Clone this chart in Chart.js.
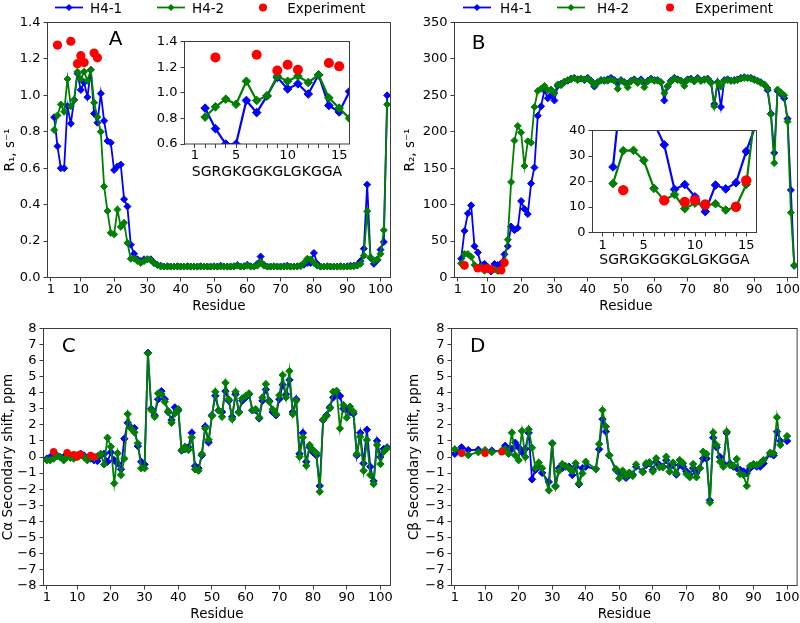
<!DOCTYPE html>
<html>
<head>
<meta charset="utf-8">
<script src="https://cdn.jsdelivr.net/npm/chart.js@4/dist/chart.umd.min.js"></script>
<style>
html,body{margin:0;padding:0;background:#fff;}
#wrap{position:relative;width:800px;height:623px;overflow:hidden;background:#fff;}
#wrap canvas{position:absolute;left:0;top:0;}
.leg{position:absolute;font-family:"DejaVu Sans",sans-serif;font-size:13.5px;line-height:16px;color:#000;white-space:nowrap;}
.legicon{position:absolute;}
</style>
</head>
<body>
<div id="wrap">
<canvas id="cA" width="800" height="623"></canvas>
<canvas id="cB" width="800" height="623"></canvas>
<canvas id="cC" width="800" height="623"></canvas>
<canvas id="cD" width="800" height="623"></canvas>
<canvas id="cAi" width="800" height="623"></canvas>
<canvas id="cBi" width="800" height="623"></canvas>
</div>
<script>
// ---------------- data ----------------
const residues = Array.from({length: 102}, (_, i) => i + 1);
const sequenceLabel = 'SGRGKGGKGLGKGGA';

const r1H41 = [null,0.88,0.72,0.60,0.60,0.94,0.845,0.975,1.12,1.03,
  1.07,0.99,1.14,0.90,0.85,1.01,0.86,0.75,0.74,0.59,
  0.61,0.62,0.43,0.39,0.18,0.13,0.10,0.09,0.10,0.10,
  0.10,0.08,0.07,0.065,0.06,0.062,0.06,0.06,0.062,0.06,
  0.06,0.062,0.06,0.06,0.06,0.062,0.06,0.06,0.06,0.062,
  0.06,0.065,0.06,0.06,0.06,0.062,0.068,0.06,0.062,0.07,
  0.062,0.06,0.075,0.115,0.07,0.06,0.06,0.062,0.06,0.06,
  0.062,0.065,0.06,0.06,0.062,0.065,0.07,0.08,0.08,0.135,
  0.075,0.06,0.06,0.062,0.06,0.06,0.06,0.062,0.06,0.062,
  0.065,0.065,0.07,0.09,0.158,0.51,0.108,0.075,0.094,0.153,
  0.195,1.00];
const r1H42 = [null,0.81,0.89,0.95,0.91,1.09,0.94,0.975,1.13,1.09,
  1.13,1.08,1.14,0.96,0.88,0.80,0.50,0.365,0.245,0.237,
  0.373,0.278,0.30,0.19,0.103,0.105,0.09,0.08,0.09,0.10,
  0.095,0.08,0.068,0.06,0.06,0.06,0.06,0.06,0.06,0.06,
  0.06,0.06,0.06,0.06,0.06,0.06,0.06,0.06,0.06,0.06,
  0.06,0.06,0.06,0.06,0.06,0.06,0.065,0.06,0.06,0.065,
  0.06,0.06,0.065,0.085,0.065,0.06,0.06,0.06,0.06,0.06,
  0.06,0.06,0.06,0.06,0.06,0.062,0.08,0.103,0.10,0.08,
  0.065,0.06,0.06,0.06,0.06,0.06,0.06,0.06,0.06,0.06,
  0.06,0.062,0.065,0.075,0.12,0.364,0.11,0.09,0.10,0.13,
  0.26,0.95];

const r2H41 = [null,25.7,64,88,99,43,34.4,16.9,18.8,14,
  8.2,18.6,17.1,19.5,31.8,43,70,65,68,105,
  94,87,129,151,222,235,257,246,250,243,
  263,266,268,270,273,274,272,273,271,274,
  270,262,268,271,270,272,274,271,268,271,
  268,266,270,272,268,272,266,270,273,271,
  271,268,243,262,270,274,272,270,268,272,
  273,270,274,270,272,273,268,238,268,234,
  271,272,270,271,272,274,275,274,274,272,
  270,268,265,257,225,171,256,252,246,218,
  120,16];
const r2H42 = [null,19.2,32.1,32.2,28.3,17.3,12.7,14.9,9.35,11.5,
  10.5,11.3,8.8,10.1,18.8,52,131,188,208,199,
  153,187,185,234,256,259,263,257,258,253,
  265,264,269,271,272,274,271,273,272,273,
  269,264,268,270,271,270,272,270,259,270,
  268,261,269,271,267,270,261,269,272,270,
  270,268,253,263,269,273,271,270,263,271,
  272,269,273,270,271,272,267,235,268,262,
  270,271,270,270,271,273,274,274,273,271,
  270,267,265,260,224,157,258,254,250,214,
  89,17];

const caH41 = [-0.1,0.0,0.0,0.1,0.0,0.0,0.1,0.1,0.0,0.1,
  0.2,0.1,-0.1,-0.1,-0.2,-0.25,0.1,0.2,-0.3,0.3,
  -0.2,-0.4,-0.77,1.14,2.13,1.84,1.8,0.68,-0.3,-0.46,
  6.49,3.0,2.6,3.59,4.1,3.6,2.8,2.3,3.09,2.9,
  0.4,0.5,0.6,1.51,-0.56,-0.7,0.1,1.9,0.91,2.6,
  3.81,2.9,2.8,4.1,3.5,2.5,3.9,2.8,3.5,3.7,
  3.9,2.9,2.9,2.4,3.5,4.2,3.5,2.8,2.6,3.6,
  4.5,3.9,4.8,2.8,3.6,0.2,1.5,-0.3,0.6,0.3,
  0.1,-1.8,2.3,2.6,3.1,3.7,4.0,3.8,3.0,3.0,
  2.8,2.7,0.1,1.5,-0.4,1.7,-0.6,-1.5,1.0,0.0,
  0.5,0.6];
const caH42 = [-0.2,-0.2,-0.1,0.05,0.0,-0.2,0.0,-0.05,-0.1,0.0,
  0.1,0.0,-0.2,0.0,-0.05,0.05,0.2,-0.46,1.2,0.64,
  -1.64,0.23,-1.12,-0.1,2.67,1.78,1.53,0.85,-0.7,-0.7,
  6.45,2.92,2.5,3.96,3.92,3.44,2.86,2.13,2.71,2.98,
  0.43,0.64,0.43,1.22,-0.77,-0.85,0.19,1.78,1.08,2.55,
  4.06,2.9,2.5,4.62,3.59,2.36,4.06,2.76,3.65,3.8,
  3.96,2.92,2.98,2.47,3.7,4.54,3.44,2.96,2.67,3.85,
  5.1,3.71,5.35,2.67,3.5,0.02,1.22,-0.54,0.75,0.44,
  0.23,-2.16,2.34,2.55,3.03,4.06,4.12,1.78,3.23,2.45,
  3.13,2.82,0.19,1.26,-0.85,1.06,-1.12,-1.68,0.75,-0.44,
  0.33,0.54];

const cbH41 = [0.2,null,0.6,null,0.43,null,null,0.45,null,0.3,
  null,0.4,null,null,0.35,0.7,0.5,0.5,0.89,0.6,
  0.3,0.5,1.5,-1.39,-0.8,-0.6,-0.99,null,-1.55,0.85,
  -1.8,-0.7,-0.7,-0.6,-0.6,-1.12,-0.6,-1.7,-0.7,-0.6,
  null,null,-0.75,0.48,2.36,1.58,0.1,null,-0.8,-1.0,
  -1.0,-1.3,-1.1,-1.1,-0.6,null,-0.9,-0.5,-0.4,-0.8,
  -0.3,-0.5,-0.6,-0.2,-0.6,-0.5,-1.1,-0.5,-0.6,-0.9,
  -1.1,-0.7,-1.0,-0.7,-0.1,-0.1,-2.7,1.2,0.6,0.0,
  -0.4,1.5,-0.4,-0.6,-0.7,-0.8,-0.9,-1.0,-0.7,-0.5,
  -0.6,-0.6,-0.4,null,0.2,0.1,1.58,1.0,null,1.0,
  null,null];
const cbH42 = [0.48,null,0.25,null,0.12,null,null,0.3,null,0.43,
  null,0.3,null,null,0.4,0.48,0.2,1.51,0.1,-0.2,
  1.62,0.0,1.72,0.58,-0.68,-0.35,-0.7,null,-2.07,0.85,
  -1.84,-0.87,-0.44,-0.56,-0.7,-0.9,-0.39,-1.64,-1.02,-0.29,
  null,null,-0.75,0.81,2.92,1.89,0.12,null,-0.75,-1.33,
  -0.85,-1.18,-0.97,-1.18,-0.46,null,-0.95,-0.39,-0.33,-0.91,
  -0.08,-0.64,-0.64,0.02,-0.91,-0.35,-1.02,-0.19,-0.39,-1.06,
  -1.26,-0.44,-1.26,-0.7,0.33,0.19,-2.84,1.53,0.75,-0.29,
  -0.6,1.58,-0.5,-0.56,-0.12,-1.06,-1.12,-1.8,-0.56,-0.44,
  -0.5,-0.39,-0.19,null,0.27,0.23,2.47,0.75,null,1.3,
  null,null];

const expRes = [3,7,9,10,11,14,15];
const expR1 = [1.276,1.297,1.174,1.218,1.18,1.232,1.206];
const expR2 = [16.6,12.6,12.0,12.7,11.0,10.1,20.4];
const expCa = [0.33,0.27,0.15,0.02,0.18,0.10,0.0];
const expCbRes = [3,10,15];
const expCb = [0.23,0.23,0.33];

const xTicksMain = [1,10,20,30,40,50,60,70,80,90,100];
const xTicksInset = [1,2,3,4,5,6,7,8,9,10,11,12,13,14,15];
const xLabelsInset = [1,5,10,15];
const yTicksR1 = [0,0.2,0.4,0.6,0.8,1.0,1.2,1.4];
const yTicksR1Inset = [0.6,0.8,1.0,1.2,1.4];
const yTicksR2 = [0,50,100,150,200,250,300,350];
const yTicksR2Inset = [0,10,20,30,40];
const yTicksShift = [-8,-7,-6,-5,-4,-3,-2,-1,0,1,2,3,4,5,6,7,8];

// ---------------- styling ----------------
const BLUE = '#0000ff', GREEN = '#008000', RED = '#ff0000', FRAME = '#3c3c3c';
Chart.defaults.font.family = '"DejaVu Sans", sans-serif';
Chart.defaults.color = '#000';

const decoPlugin = {
  id: 'deco',
  beforeDraw(chart, args, o) {
    if (o.white) {
      const a = chart.chartArea, c = chart.ctx;
      c.save(); c.fillStyle = '#fff';
      c.fillRect(a.left, a.top, a.right - a.left, a.bottom - a.top);
      c.restore();
    }
  },
  afterDraw(chart, args, o) {
    const a = chart.chartArea, c = chart.ctx;
    c.save();
    c.strokeStyle = FRAME; c.lineWidth = 1;
    c.strokeRect(a.left, a.top, a.right - a.left, a.bottom - a.top);
    if (o.letter) {
      c.fillStyle = '#000';
      c.font = '20px "DejaVu Sans"';
      c.textAlign = 'center'; c.textBaseline = 'middle';
      c.fillText(o.letter, o.lx, o.ly);
    }
    c.restore();
  }
};

const fmtInt = v => String(v);
const fmt1 = v => Number(v).toFixed(1);
const fmtMinus = v => (v < 0 ? '\u2212' + Math.abs(v) : String(v));

function xAxis(o) {
  return {
    type: 'linear', min: o.min, max: o.max,
    afterBuildTicks: s => { s.ticks = o.ticks.map(v => ({value: v})); },
    afterFit: s => { s.height = o.h; },
    ticks: {autoSkip: false, maxRotation: 0, minRotation: 0, padding: o.pad, font: {size: 13}, color: '#000', callback: o.fmt},
    grid: {drawOnChartArea: false, drawTicks: true, tickLength: 4, color: FRAME, lineWidth: 1},
    border: {display: false},
    title: {display: true, text: o.title, font: {size: o.titleSize}, padding: 0, color: '#000'}
  };
}
function yAxis(o) {
  return {
    type: 'linear', min: o.min, max: o.max,
    afterBuildTicks: s => { s.ticks = o.ticks.map(v => ({value: v})); },
    afterFit: s => { s.width = o.w; },
    ticks: {autoSkip: false, padding: 3, font: {size: 13}, color: '#000', callback: o.fmt},
    grid: {drawOnChartArea: false, drawTicks: true, tickLength: 4, color: FRAME, lineWidth: 1},
    border: {display: false},
    title: {display: !!o.title, text: o.title || '', font: {size: 13.5}, padding: 0, color: '#000'}
  };
}
function lineDs(label, values, color, order, r, bw) {
  return {
    label, data: residues.map((x, i) => ({x, y: values[i]})),
    borderColor: color, backgroundColor: color, borderWidth: bw,
    pointStyle: 'rectRot', pointRadius: r, pointBorderWidth: 1,
    pointBackgroundColor: color, pointBorderColor: color,
    spanGaps: true, tension: 0, order, clip: 0
  };
}
function expDs(xs, ys, r) {
  return {
    label: 'Experiment', data: xs.map((x, i) => ({x, y: ys[i]})),
    showLine: false, pointStyle: 'circle', pointRadius: r, pointBorderWidth: 0,
    backgroundColor: RED, borderColor: RED, pointBackgroundColor: RED, order: 0, clip: 0
  };
}
function makeChart(id, c) {
  return new Chart(document.getElementById(id), {
    type: 'line',
    data: {datasets: c.datasets},
    options: {
      responsive: false, animation: false, devicePixelRatio: 1, events: [],
      layout: {autoPadding: false, padding: c.padding},
      plugins: {legend: {display: false}, tooltip: {enabled: false}, deco: c.deco},
      scales: {x: c.x, y: c.y}
    },
    plugins: [decoPlugin]
  });
}

// ---------------- Panel A ----------------
makeChart('cA', {
  padding: {left: 2.4, top: 22.5, right: 409.5, bottom: 308.9},
  deco: {letter: 'A', lx: 115.5, ly: 40},
  x: xAxis({min: 0, max: 103, ticks: xTicksMain, h: 36.6, pad: 0, fmt: fmtInt, title: 'Residue', titleSize: 13.5}),
  y: yAxis({min: 0, max: 1.4, ticks: yTicksR1, w: 45.1, fmt: fmt1, title: 'R\u2081, s\u207B\u00B9'}),
  datasets: [lineDs('H4-1', r1H41, BLUE, 2, 3.5, 1.8), lineDs('H4-2', r1H42, GREEN, 1, 3.5, 1.8), expDs(expRes, expR1, 4.6)]
});
// ---------------- Panel B ----------------
makeChart('cB', {
  padding: {left: 401.9, top: 22.5, right: 1.5, bottom: 308.9},
  deco: {letter: 'B', lx: 478.5, ly: 43.3},
  x: xAxis({min: 0, max: 103, ticks: xTicksMain, h: 36.6, pad: 0, fmt: fmtInt, title: 'Residue', titleSize: 13.5}),
  y: yAxis({min: 0, max: 350, ticks: yTicksR2, w: 52.6, fmt: fmtInt, title: 'R\u2082, s\u207B\u00B9'}),
  datasets: [lineDs('H4-1', r2H41, BLUE, 2, 3.5, 1.8), lineDs('H4-2', r2H42, GREEN, 1, 3.5, 1.8), expDs(expRes, expR2, 4.3)]
});
// ---------------- Panel C ----------------
makeChart('cC', {
  padding: {left: 0, top: 328.5, right: 409.5, bottom: 0.6},
  deco: {letter: 'C', lx: 68.8, ly: 347},
  x: xAxis({min: 0, max: 103, ticks: xTicksMain, h: 36.9, pad: 0.5, fmt: fmtInt, title: 'Residue', titleSize: 13.5}),
  y: yAxis({min: -8, max: 8, ticks: yTicksShift, w: 43.5, fmt: fmtMinus, title: 'C\u03B1 Secondary shift, ppm'}),
  datasets: [lineDs('H4-1', caH41, BLUE, 2, 3.7, 1.8), lineDs('H4-2', caH42, GREEN, 1, 3.7, 1.8), expDs(expRes, expCa, 3.7)]
});
// ---------------- Panel D ----------------
makeChart('cD', {
  padding: {left: 405.9, top: 328.5, right: 1.5, bottom: 0.6},
  deco: {letter: 'D', lx: 477.8, ly: 347},
  x: xAxis({min: 0, max: 103, ticks: xTicksMain, h: 36.9, pad: 0.5, fmt: fmtInt, title: 'Residue', titleSize: 13.5}),
  y: yAxis({min: -8, max: 8, ticks: yTicksShift, w: 45.6, fmt: fmtMinus, title: 'C\u03B2 Secondary shift, ppm'}),
  datasets: [lineDs('H4-1', cbH41, BLUE, 2, 3.7, 1.8), lineDs('H4-2', cbH42, GREEN, 1, 3.7, 1.8), expDs(expCbRes, expCb, 3.7)]
});
// ---------------- Insets ----------------
const insetFmt = v => (xLabelsInset.includes(v) ? String(v) : '');
makeChart('cAi', {
  padding: {left: 150, top: 41.5, right: 450.5, bottom: 442.6},
  deco: {white: true},
  x: xAxis({min: 0, max: 16, ticks: xTicksInset, h: 36.4, pad: 0, fmt: insetFmt, title: sequenceLabel, titleSize: 14}),
  y: yAxis({min: 0.6, max: 1.4, ticks: yTicksR1Inset, w: 34.5, fmt: fmt1}),
  datasets: [lineDs('H4-1', r1H41, BLUE, 2, 4.3, 2.2), lineDs('H4-2', r1H42, GREEN, 1, 4.3, 2.2), expDs(expRes, expR1, 5)]
});
makeChart('cBi', {
  padding: {left: 560, top: 130.5, right: 43.5, bottom: 354.6},
  deco: {white: true},
  x: xAxis({min: 0, max: 16, ticks: xTicksInset, h: 35.9, pad: 1, fmt: insetFmt, title: sequenceLabel, titleSize: 14}),
  y: yAxis({min: 0, max: 40, ticks: yTicksR2Inset, w: 32.5, fmt: fmtInt}),
  datasets: [lineDs('H4-1', r2H41, BLUE, 2, 4.3, 2.2), lineDs('H4-2', r2H42, GREEN, 1, 4.3, 2.2), expDs(expRes, expR2, 5.2)]
});

// ---------------- Legends (HTML) ----------------
const legendLabels = ['H4-1', 'H4-2', 'Experiment'];
const legendSets = [
  {line: [55, 157], text: [90, 192, 287.3], dot: 263.3},
  {line: [463, 557], text: [500, 597, 695], dot: 670}
];
const wrap = document.getElementById('wrap');
const NS = 'http://www.w3.org/2000/svg';
legendSets.forEach(set => {
  [BLUE, GREEN].forEach((col, k) => {
    const svg = document.createElementNS(NS, 'svg');
    svg.setAttribute('width', '28'); svg.setAttribute('height', '15');
    svg.setAttribute('class', 'legicon');
    svg.style.left = set.line[k] + 'px'; svg.style.top = '-0.2px';
    svg.innerHTML = '<line x1="0" y1="7.5" x2="28" y2="7.5" stroke="' + col + '" stroke-width="1.8"/>' +
      '<path d="M14 4.0 L17.5 7.5 L14 11.0 L10.5 7.5 Z" fill="' + col + '"/>';
    wrap.appendChild(svg);
  });
  const dsvg = document.createElementNS(NS, 'svg');
  dsvg.setAttribute('width', '12'); dsvg.setAttribute('height', '15');
  dsvg.setAttribute('class', 'legicon');
  dsvg.style.left = (set.dot - 6) + 'px'; dsvg.style.top = '-0.2px';
  dsvg.innerHTML = '<circle cx="6" cy="7.5" r="4" fill="' + RED + '"/>';
  wrap.appendChild(dsvg);
  legendLabels.forEach((t, k) => {
    const d = document.createElement('div');
    d.className = 'leg'; d.textContent = t;
    d.style.left = set.text[k] + 'px'; d.style.top = '-0.5px';
    wrap.appendChild(d);
  });
});
</script>
</body>
</html>
